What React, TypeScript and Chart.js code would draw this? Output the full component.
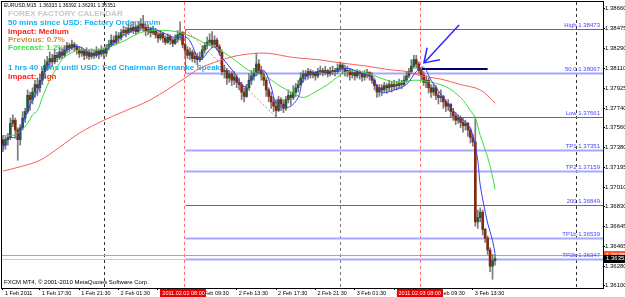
import { useEffect, useRef } from 'react';
import { Chart, registerables } from 'chart.js';
Chart.register(...registerables);

const symbol = 'EURUSD,M15';
const firstOpen = 1.3745;
const closes = [
  1.3740, 1.3745, 1.3747, 1.3760, 1.3763, 1.3754, 1.3745, 1.3756, 1.3765, 1.3771,
  1.3786, 1.3782, 1.3789, 1.3796, 1.3793, 1.3800, 1.3808, 1.3814, 1.3817, 1.3820,
  1.3817, 1.3823, 1.3821, 1.3826, 1.3823, 1.3828, 1.3832, 1.3830, 1.3833, 1.3831,
  1.3828, 1.3825, 1.3827, 1.3823, 1.3826, 1.3822, 1.3825, 1.3823, 1.3827, 1.3824,
  1.3828, 1.3825, 1.3830, 1.3833, 1.3837, 1.3835, 1.3841, 1.3839, 1.3844, 1.3846,
  1.3844, 1.3848, 1.3846, 1.3849, 1.3845, 1.3850, 1.3852, 1.3848, 1.3845, 1.3847,
  1.3844, 1.3846, 1.3842, 1.3839, 1.3843, 1.3839, 1.3835, 1.3840, 1.3837, 1.3834,
  1.3838, 1.3842, 1.3844, 1.3833, 1.3828, 1.3823, 1.3826, 1.3820, 1.3822, 1.3819,
  1.3821, 1.3828, 1.3832, 1.3835, 1.3837, 1.3833, 1.3837, 1.3831, 1.3826, 1.3808,
  1.3809, 1.3802, 1.3806, 1.3800, 1.3803, 1.3798, 1.3796, 1.3789, 1.3785, 1.3793,
  1.3800, 1.3804, 1.3807, 1.3815, 1.3809, 1.3805, 1.3800, 1.3791, 1.3785, 1.3780,
  1.3776, 1.3772, 1.3782, 1.3778, 1.3774, 1.3782, 1.3786, 1.3784, 1.3789, 1.3793,
  1.3796, 1.3802, 1.3806, 1.3804, 1.3808, 1.3805, 1.3807, 1.3804, 1.3808, 1.3809,
  1.3807, 1.3809, 1.3806, 1.3808, 1.3809, 1.3808, 1.3811, 1.3814, 1.3811, 1.3808,
  1.3809, 1.3805, 1.3807, 1.3804, 1.3808, 1.3806, 1.3803, 1.3806, 1.3807, 1.3804,
  1.3800, 1.3795, 1.3789, 1.3793, 1.3791, 1.3795, 1.3793, 1.3796, 1.3794, 1.3796,
  1.3795, 1.3797, 1.3796, 1.3800, 1.3804, 1.3808, 1.3813, 1.3819, 1.3815, 1.3809,
  1.3805, 1.3798, 1.3800, 1.3793, 1.3789, 1.3793, 1.3786, 1.3784, 1.3785, 1.3780,
  1.3776, 1.3778, 1.3771, 1.3767, 1.3763, 1.3765, 1.3761, 1.3758, 1.3760, 1.3754,
  1.3747, 1.3743, 1.3669, 1.3673, 1.3678, 1.3662, 1.3654, 1.3643, 1.3628, 1.36333,
  1.36351,
];
const highs = [
  1.3749, 1.3748, 1.3751, 1.3765, 1.3768, 1.3765, 1.3756, 1.3759, 1.3771, 1.3774,
  1.3791, 1.3789, 1.3793, 1.3800, 1.3802, 1.3806, 1.3811, 1.3819, 1.3822, 1.3826,
  1.3824, 1.3828, 1.3826, 1.3830, 1.3829, 1.3832, 1.3835, 1.3834, 1.3837, 1.3835,
  1.3833, 1.3831, 1.3830, 1.3828, 1.3830, 1.3828, 1.3829, 1.3828, 1.3831, 1.3829,
  1.3832, 1.3830, 1.3833, 1.3837, 1.3842, 1.3841, 1.3845, 1.3844, 1.3847, 1.3850,
  1.3849, 1.3852, 1.3851, 1.3854, 1.3851, 1.3854, 1.3857, 1.3860, 1.3852, 1.3851,
  1.3849, 1.3850, 1.3848, 1.3845, 1.3846, 1.3844, 1.3841, 1.3843, 1.3842, 1.3839,
  1.3842, 1.3846, 1.3854, 1.3845, 1.3834, 1.3831, 1.3830, 1.3828, 1.3826, 1.3825,
  1.3826, 1.3832, 1.3835, 1.3840, 1.3843, 1.3845, 1.3841, 1.3839, 1.3833, 1.3828,
  1.3814, 1.3811, 1.3809, 1.3808, 1.3808, 1.3805, 1.3802, 1.3798, 1.3793, 1.3796,
  1.3806, 1.3809, 1.3811, 1.3825, 1.3819, 1.3813, 1.3808, 1.3802, 1.3793, 1.3789,
  1.3784, 1.3782, 1.3785, 1.3784, 1.3782, 1.3785, 1.3791, 1.3789, 1.3795, 1.3797,
  1.3800, 1.3807, 1.3809, 1.3809, 1.3811, 1.3810, 1.3809, 1.3808, 1.3811, 1.3813,
  1.3811, 1.3813, 1.3810, 1.3812, 1.3813, 1.3811, 1.3815, 1.3817, 1.3816, 1.3814,
  1.3813, 1.3811, 1.3810, 1.3808, 1.3810, 1.3809, 1.3808, 1.3809, 1.3810, 1.3808,
  1.3807, 1.3802, 1.3796, 1.3796, 1.3796, 1.3798, 1.3797, 1.3800, 1.3799, 1.3800,
  1.3799, 1.3801, 1.3800, 1.3804, 1.3808, 1.3811, 1.3819, 1.3823, 1.3823, 1.3817,
  1.3811, 1.3808, 1.3804, 1.3802, 1.3796, 1.3796, 1.3795, 1.3789, 1.3791, 1.3786,
  1.3782, 1.3782, 1.3778, 1.3774, 1.3770, 1.3768, 1.3767, 1.3765, 1.3763, 1.3761,
  1.3756, 1.3750, 1.3766, 1.3680, 1.3682, 1.3680, 1.3663, 1.3656, 1.3645, 1.3639,
  1.36392,
];
const lows = [
  1.3734, 1.3736, 1.3740, 1.3745, 1.3757, 1.3747, 1.3726, 1.3740, 1.3754, 1.3761,
  1.3769, 1.3772, 1.3778, 1.3784, 1.3786, 1.3789, 1.3796, 1.3802, 1.3809, 1.3811,
  1.3813, 1.3815, 1.3817, 1.3819, 1.3820, 1.3821, 1.3825, 1.3826, 1.3828, 1.3827,
  1.3824, 1.3821, 1.3822, 1.3819, 1.3820, 1.3819, 1.3820, 1.3820, 1.3821, 1.3820,
  1.3822, 1.3820, 1.3822, 1.3828, 1.3831, 1.3832, 1.3833, 1.3835, 1.3837, 1.3841,
  1.3840, 1.3842, 1.3844, 1.3843, 1.3842, 1.3844, 1.3846, 1.3845, 1.3841, 1.3842,
  1.3840, 1.3842, 1.3839, 1.3835, 1.3837, 1.3835, 1.3833, 1.3834, 1.3833, 1.3831,
  1.3833, 1.3835, 1.3837, 1.3830, 1.3823, 1.3820, 1.3819, 1.3817, 1.3816, 1.3814,
  1.3817, 1.3819, 1.3825, 1.3829, 1.3832, 1.3830, 1.3831, 1.3828, 1.3823, 1.3805,
  1.3802, 1.3796, 1.3798, 1.3795, 1.3796, 1.3793, 1.3791, 1.3782, 1.3780, 1.3784,
  1.3791, 1.3796, 1.3800, 1.3804, 1.3806, 1.3800, 1.3795, 1.3785, 1.3780, 1.3774,
  1.3771, 1.3766, 1.3771, 1.3772, 1.3770, 1.3772, 1.3779, 1.3777, 1.3782, 1.3785,
  1.3789, 1.3795, 1.3798, 1.3800, 1.3801, 1.3802, 1.3802, 1.3800, 1.3802, 1.3805,
  1.3804, 1.3805, 1.3803, 1.3804, 1.3805, 1.3804, 1.3806, 1.3808, 1.3806, 1.3804,
  1.3803, 1.3800, 1.3802, 1.3800, 1.3802, 1.3801, 1.3799, 1.3800, 1.3802, 1.3800,
  1.3797, 1.3791, 1.3784, 1.3785, 1.3786, 1.3789, 1.3788, 1.3790, 1.3789, 1.3791,
  1.3791, 1.3793, 1.3792, 1.3795, 1.3798, 1.3802, 1.3806, 1.3811, 1.3811, 1.3806,
  1.3800, 1.3795, 1.3793, 1.3788, 1.3784, 1.3786, 1.3782, 1.3778, 1.3780, 1.3774,
  1.3771, 1.3772, 1.3766, 1.3763, 1.3759, 1.3760, 1.3756, 1.3752, 1.3754, 1.3748,
  1.3742, 1.3739, 1.3665, 1.3663, 1.3669, 1.3657, 1.3650, 1.3639, 1.3623, 1.3616,
  1.36291,
];
const opens = [firstOpen, ...closes.slice(0, -1)];

const blueIdx = [0, 2, 6, 8, 12, 15, 16, 20, 26, 31, 37, 42, 48, 53, 57, 63, 69, 75, 80, 84, 86, 89, 94, 98, 102, 106, 109, 111, 116, 120, 122, 126, 134, 140, 145, 150, 154, 159, 164, 168, 171, 174, 179, 185, 189, 191, 193, 194, 197, 199, 200];
const blueVals = [1.3736, 1.3747, 1.3747, 1.3760, 1.3782, 1.3794, 1.3803, 1.3819, 1.3828, 1.3831, 1.3823, 1.3828, 1.3840, 1.3846, 1.3849, 1.3846, 1.3840, 1.3839, 1.3819, 1.3828, 1.3831, 1.3821, 1.3807, 1.3794, 1.3803, 1.3809, 1.3794, 1.3779, 1.3775, 1.3784, 1.3800, 1.3807, 1.3808, 1.3811, 1.3807, 1.3802, 1.3789, 1.3791, 1.3796, 1.3808, 1.3812, 1.3800, 1.3784, 1.3767, 1.3759, 1.3749, 1.3726, 1.3703, 1.3668, 1.3652, 1.3640];
const greenIdx = [0, 4, 7, 10, 12, 14, 16, 19, 22, 24, 26, 31, 38, 42, 48, 56, 63, 70, 77, 83, 88, 94, 100, 107, 113, 118, 122, 126, 132, 136, 140, 145, 150, 156, 161, 167, 172, 180, 186, 190, 192, 194, 197, 199, 200];
const greenVals = [1.3749, 1.3749, 1.3753, 1.3760, 1.3768, 1.3772, 1.3784, 1.3800, 1.3812, 1.3819, 1.3823, 1.3828, 1.3828, 1.3830, 1.3835, 1.3844, 1.3846, 1.3845, 1.3840, 1.3833, 1.3828, 1.3819, 1.3809, 1.3803, 1.3794, 1.3788, 1.3784, 1.3788, 1.3796, 1.3803, 1.3808, 1.3808, 1.3805, 1.3800, 1.3798, 1.3800, 1.3799, 1.3794, 1.3784, 1.3772, 1.3765, 1.3749, 1.3729, 1.3711, 1.3699];
const redIdx = [0, 7, 15, 23, 31, 41, 48, 60, 74, 80, 88, 96, 107, 118, 128, 137, 148, 156, 164, 170, 178, 186, 194, 200];
const redVals = [1.3716, 1.3720, 1.3726, 1.3738, 1.3751, 1.3763, 1.3770, 1.3782, 1.3802, 1.3811, 1.3818, 1.3823, 1.3825, 1.3821, 1.3819, 1.3816, 1.3813, 1.3810, 1.3808, 1.3804, 1.3801, 1.3796, 1.3791, 1.3779];

const yTickValues = [1.3866, 1.38475, 1.3829, 1.3811, 1.37925, 1.3774, 1.3756, 1.3738, 1.37195, 1.3701, 1.3683, 1.36645, 1.36465, 1.3628, 1.361];
const xTickIndex = [0, 15, 31, 47, 63, 79, 95, 111, 127, 143, 159, 175, 191];
const xTickLabels = ['1 Feb 2011', '1 Feb 17:30', '1 Feb 21:30', '2 Feb 01:30', '2 Feb 05:30', '2 Feb 09:30', '2 Feb 13:30', '2 Feb 17:30', '2 Feb 21:30', '3 Feb 01:30', '3 Feb 05:30', '3 Feb 09:30', '3 Feb 13:30'];

const fibNames = ['High', '50.0', 'Low', 'TP1', 'TP2', '200', 'TP1b', 'TP2b'];
const fibValues = [1.38473, 1.38067, 1.37661, 1.37351, 1.37159, 1.36849, 1.36539, 1.36347];
const fibThick = [false, true, false, true, true, false, true, true];
const fibStartIndex = 74;
const fibLowIndex = 111;
const daySeparators = [41, 137, 233];
const eventIndex = [73.4, 169.4];
const eventLabels = ['2011.02.02 08:00', '2011.02.03 08:00'];
const bidPrice = 1.36351;
const askPrice = 1.3638;
const markLevel = 1.381;
const markFrom = 169.5;
const markTo = 197;
const arrowTail = [185.4, 1.3851];
const arrowTip = [171.1, 1.3816];
const arrowWingA = [177.6, 1.3819];
const arrowWingB = [172.4, 1.383];

const calendarTexts = ['FOREX FACTORY CALENDAR', '50 mins since USD: Factory Orders m/m', 'Impact: Medium', 'Previous: 0.7%', 'Forecast: 1.2%', '1 hrs 40 mins until USD: Fed Chairman Bernanke Speaks', 'Impact: High'];
const calendarColors = ['#c8c8c8', '#1ab0f0', '#ff2020', '#d08a48', '#40e040', '#1ab0f0', '#ff2020'];
const copyright = 'FXCM MT4, \u00a9 2001-2010 MetaQuotes Software Corp.';

const SMALL = '"Liberation Sans", Arial, sans-serif';

const overlay = {
  id: 'overlay',
  beforeDraw(chart: any) {
    const { ctx, width, height } = chart;
    ctx.save();
    ctx.fillStyle = '#ffffff';
    ctx.fillRect(0, 0, width, height);
    ctx.restore();
  },
  beforeDatasetsDraw(chart: any) {
    const { ctx, chartArea: a, scales } = chart;
    const x = scales.x, y = scales.y;
    const px = (v: number) => x.getPixelForValue(v);
    const py = (v: number) => y.getPixelForValue(v);
    ctx.save();
    ctx.beginPath();
    ctx.rect(a.left, a.top, a.right - a.left, a.bottom - a.top);
    ctx.clip();

    // calendar text (behind candles)
    ctx.textBaseline = 'middle';
    ctx.textAlign = 'left';
    ctx.font = `5px ${SMALL}`;
    ctx.fillStyle = '#000';
    const last = closes.length - 1;
    ctx.fillText(`${symbol}  ${opens[last].toFixed(5)} ${highs[last].toFixed(5)} ${lows[last].toFixed(5)} ${closes[last].toFixed(5)}`, 4, 6);
    ctx.font = `6px ${SMALL}`;
    ctx.fillText(copyright, 4, a.bottom - 6);
    const ys = [14, 23, 31.5, 40, 48, 68, 76.5];
    ctx.font = `bold 8px ${SMALL}`;
    calendarTexts.forEach((t, i) => {
      ctx.fillStyle = calendarColors[i];
      ctx.fillText(t, 8, ys[i]);
    });

    // day separators
    ctx.lineWidth = 1;
    ctx.setLineDash([3, 3]);
    daySeparators.forEach((d, k) => {
      const xx = Math.round(px(d)) + 0.5;
      ctx.strokeStyle = k === 1 ? '#7a7a7a' : '#333333';
      ctx.beginPath(); ctx.moveTo(xx, a.top); ctx.lineTo(xx, a.bottom); ctx.stroke();
    });
    ctx.strokeStyle = '#ff6a6a';
    eventIndex.forEach((d) => {
      const xx = Math.round(px(d)) + 0.5;
      ctx.beginPath(); ctx.moveTo(xx, a.top); ctx.lineTo(xx, a.bottom); ctx.stroke();
    });
    ctx.setLineDash([]);

    // ask / bid lines
    ctx.strokeStyle = '#ff8a55';
    let yy = Math.round(py(askPrice)) + 0.5;
    ctx.beginPath(); ctx.moveTo(a.left, yy); ctx.lineTo(a.right, yy); ctx.stroke();
    ctx.strokeStyle = '#c4c4ee';
    yy = Math.round(py(bidPrice)) + 0.5;
    ctx.beginPath(); ctx.moveTo(a.left, yy); ctx.lineTo(a.right, yy); ctx.stroke();

    // fib levels
    const xs = Math.round(px(fibStartIndex)) + 0.5;
    fibValues.forEach((v, i) => {
      const ly = Math.round(py(v)) + 0.5;
      if (fibThick[i]) {
        ctx.strokeStyle = '#a8a8ff';
        ctx.lineWidth = 2;
      } else {
        ctx.strokeStyle = '#5a5aff';
        ctx.lineWidth = 1;
      }
      ctx.beginPath(); ctx.moveTo(xs, ly); ctx.lineTo(a.right, ly); ctx.stroke();
    });
    ctx.lineWidth = 1;
    ctx.strokeStyle = '#6a6aff';
    ctx.beginPath(); ctx.moveTo(xs, Math.round(py(fibValues[0])) + 0.5); ctx.lineTo(xs, Math.round(py(fibValues[1])) + 0.5); ctx.stroke();
    ctx.font = `6px ${SMALL}`;
    ctx.textAlign = 'right';
    ctx.textBaseline = 'bottom';
    ctx.fillStyle = '#4646ff';
    fibValues.forEach((v, i) => {
      ctx.fillText(`${fibNames[i]} ${v.toFixed(5)}`, a.right - 3, Math.round(py(v)) - 0.5);
    });

    // fib trend (dotted)
    ctx.strokeStyle = '#ff6a6a';
    ctx.setLineDash([2, 2]);
    ctx.beginPath(); ctx.moveTo(px(fibStartIndex), py(fibValues[0])); ctx.lineTo(px(fibLowIndex), py(fibValues[2])); ctx.stroke();
    ctx.setLineDash([]);

    // marker line and arrow
    ctx.strokeStyle = '#000060';
    ctx.lineWidth = 2;
    const my = Math.round(py(markLevel));
    ctx.beginPath(); ctx.moveTo(px(markFrom), my); ctx.lineTo(px(markTo), my); ctx.stroke();
    ctx.strokeStyle = '#2a2aff';
    ctx.lineWidth = 1.5;
    ctx.beginPath();
    ctx.moveTo(px(arrowTail[0]), py(arrowTail[1]));
    ctx.lineTo(px(arrowTip[0]), py(arrowTip[1]));
    ctx.moveTo(px(arrowWingA[0]), py(arrowWingA[1]));
    ctx.lineTo(px(arrowTip[0]), py(arrowTip[1]));
    ctx.lineTo(px(arrowWingB[0]), py(arrowWingB[1]));
    ctx.stroke();
    ctx.restore();
  },
  afterDraw(chart: any) {
    const { ctx, chartArea: a, scales, width, height } = chart;
    const x = scales.x, y = scales.y;
    ctx.save();
    ctx.strokeStyle = '#000';
    ctx.lineWidth = 1;
    ctx.strokeRect(a.left - 0.5, a.top - 0.5, a.right - a.left + 1, a.bottom - a.top + 1);

    // event time boxes
    ctx.font = `5.5px ${SMALL}`;
    ctx.textBaseline = 'middle';
    ctx.textAlign = 'center';
    eventIndex.forEach((d, i) => {
      const cx = x.getPixelForValue(d);
      const w = ctx.measureText(eventLabels[i]).width + 4;
      ctx.fillStyle = '#ee0000';
      ctx.fillRect(Math.round(cx - w / 2), a.bottom + 1, Math.round(w), height - a.bottom - 1);
      ctx.fillStyle = '#ffffff';
      ctx.fillText(eventLabels[i], cx, a.bottom + 1 + (height - a.bottom - 1) / 2);
    });

    // price boxes
    ctx.font = `6px ${SMALL}`;
    ctx.textAlign = 'left';
    const ay = y.getPixelForValue(askPrice);
    ctx.fillStyle = '#ff5a2a';
    ctx.fillRect(a.right + 1, Math.round(ay) - 4, width - a.right, 8);
    ctx.fillStyle = '#fff';
    ctx.fillText(askPrice.toFixed(5), a.right + 3, ay);
    const by = y.getPixelForValue(bidPrice);
    ctx.fillStyle = '#000';
    ctx.fillRect(a.right + 1, Math.round(by) - 4, width - a.right, 8);
    ctx.fillStyle = '#fff';
    ctx.fillText(bidPrice.toFixed(5), a.right + 3, by);
    ctx.restore();
  },
};

export default function App() {
  const ref = useRef<HTMLCanvasElement | null>(null);
  useEffect(() => {
    document.body.style.margin = '0';
    const canvas = ref.current;
    if (!canvas) return;
    const bull = '#245a3a';
    const bear = '#852810';
    const chart = new Chart(canvas, {
      type: 'bar',
      data: {
        datasets: [
          { type: 'line', label: 'fast', data: blueIdx.map((v, i) => ({ x: v, y: blueVals[i] })), borderColor: '#3c3cff', borderWidth: 1, pointRadius: 0, tension: 0.35, order: 0 } as any,
          { type: 'line', label: 'mid', data: greenIdx.map((v, i) => ({ x: v, y: greenVals[i] })), borderColor: '#3ade3a', borderWidth: 1, pointRadius: 0, tension: 0.35, order: 1 } as any,
          { type: 'line', label: 'slow', data: redIdx.map((v, i) => ({ x: v, y: redVals[i] })), borderColor: '#ff5c5c', borderWidth: 1, pointRadius: 0, tension: 0.35, order: 2 } as any,
          { type: 'bar', label: 'bodies', data: closes.map((c, i) => ({ x: i, y: [opens[i], c] })), backgroundColor: closes.map((c, i) => (c >= opens[i] ? bull : bear)), barThickness: 2, grouped: false, minBarLength: 1, order: 3 } as any,
          { type: 'bar', label: 'wicks', data: highs.map((h, i) => ({ x: i, y: [lows[i], h] })), backgroundColor: '#7a7a7a', barThickness: 1, grouped: false, order: 4 } as any,
        ],
      },
      options: {
        responsive: false,
        animation: false,
        devicePixelRatio: 1,
        events: [],
        layout: { padding: { left: 2, top: 2, right: 0, bottom: 0 } },
        plugins: { legend: { display: false }, tooltip: { enabled: false } },
        scales: {
          x: {
            type: 'linear', min: -0.4, max: 243.9, offset: false, position: 'bottom',
            grid: { drawOnChartArea: false, drawTicks: true, tickLength: 2, color: '#000', offset: false },
            border: { display: false },
            ticks: { autoSkip: false, maxRotation: 0, minRotation: 0, align: 'start', labelOffset: 2, padding: 0, color: '#000', font: { size: 5.5, family: SMALL }, callback: (_v: any, i: number) => xTickLabels[i] ?? '' },
            afterBuildTicks: (s: any) => { s.ticks = xTickIndex.map((v) => ({ value: v })); },
            afterFit: (s: any) => { s.height = 9; s.paddingLeft = 0; s.paddingRight = 0; },
          } as any,
          y: {
            type: 'linear', position: 'right', min: 1.36079, max: 1.38723,
            grid: { drawOnChartArea: false, drawTicks: true, tickLength: 2, color: '#000' },
            border: { display: true, color: '#000' },
            ticks: { autoSkip: false, padding: 0, color: '#000', font: { size: 6, family: SMALL }, callback: (v: any) => Number(v).toFixed(5) },
            afterBuildTicks: (s: any) => { s.ticks = yTickValues.map((v) => ({ value: v })); },
            afterFit: (s: any) => { s.width = 22; s.paddingTop = 0; s.paddingBottom = 0; },
          } as any,
        },
      },
      plugins: [overlay],
    });
    return () => chart.destroy();
  }, []);
  return <canvas ref={ref} width={625} height={297} style={{ display: 'block' }} />;
}
